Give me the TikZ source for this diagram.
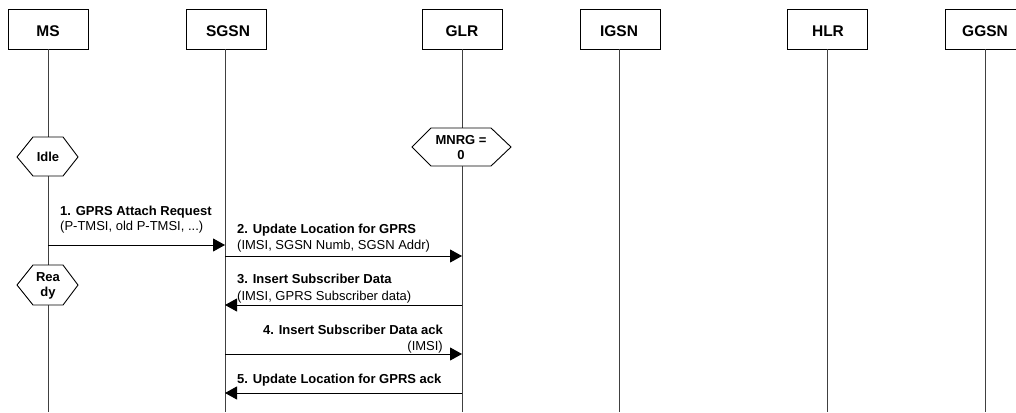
\documentclass[tikz,border=0pt]{standalone}
\usepackage{fontspec}
\setmainfont{Liberation Sans}
\usetikzlibrary{arrows.meta}
\begin{document}
\begin{tikzpicture}[x=1pt,y=-1pt,
  entity/.style={draw, line width=0.9pt, minimum width=80pt, minimum height=40pt, inner sep=0pt, font=\fontsize{15.5}{17}\selectfont\bfseries},
  life/.style={line width=0.9pt, draw=black!75},
  msg/.style={line width=0.9pt, -{Triangle[length=12pt,width=13pt]}},
  lbl/.style={inner sep=0pt, font=\fontsize{13}{16}\selectfont},
  hexlbl/.style={inner sep=0pt, align=center, font=\fontsize{13}{15}\selectfont\bfseries},
  hexa/.style={draw, fill=white, line width=0.9pt}
]
\useasboundingbox (0,0) rectangle (1016,412);
\begin{scope}
\clip (0,0) rectangle (1016,412);
% entity boxes
\node[entity] (ms)   at (48,29)  {};
\node[entity] (sgsn) at (226,29) {};
\node[entity] (glr)  at (462,29) {};
\node[entity] (igsn) at (620,29) {};
\node[entity] (hlr)  at (827,29) {};
\node[entity] (ggsn) at (985,29) {};
\node[font=\fontsize{15.5}{17}\selectfont\bfseries] at (48,31.5) {MS};
\node[font=\fontsize{15.5}{17}\selectfont\bfseries] at (228,31.5) {SGSN};
\node[font=\fontsize{15.5}{17}\selectfont\bfseries] at (462,31.5) {GLR};
\node[font=\fontsize{15.5}{17}\selectfont\bfseries] at (619,31.5) {IGSN};
\node[font=\fontsize{15.5}{17}\selectfont\bfseries] at (828,31.5) {HLR};
\node[font=\fontsize{15.5}{17}\selectfont\bfseries] at (985,31.5) {GGSN};
% lifeline ends
\coordinate (msE)   at (48,412);
\coordinate (sgsnE) at (225,412);
\coordinate (glrE)  at (462,412);
\coordinate (igsnE) at (619,412);
\coordinate (hlrE)  at (827,412);
\coordinate (ggsnE) at (985,412);
\draw[life] (ms.south)   -- (msE);
\draw[life] (sgsn.south -| sgsnE) -- (sgsnE);
\draw[life] (glr.south)  -- (glrE);
\draw[life] (igsn.south -| igsnE) -- (igsnE);
\draw[life] (hlr.south)  -- (hlrE);
\draw[life] (ggsn.south) -- (ggsnE);
% state hexagons
\draw[hexa] (17,157) -- (33,137) -- (63,137) -- (78,157) -- (63,176) -- (33,176) -- cycle;
\node[hexlbl] (idle) at (48,157) {Idle};
\draw[hexa] (412,147) -- (431,128) -- (491,128) -- (511,147) -- (491,166) -- (431,166) -- cycle;
\node[hexlbl] (mnrg) at (461,147.5) {MNRG =\\0};
\draw[hexa] (17,285) -- (33,265) -- (63,265) -- (78,285) -- (63,305) -- (33,305) -- cycle;
\node[hexlbl] (ready) at (48,285.5) {Rea\\dy};
% message points
\coordinate (m1a) at (48,245);  \coordinate (m1b) at (225,245);
\coordinate (m2a) at (225,256); \coordinate (m2b) at (462,256);
\coordinate (m3a) at (462,305); \coordinate (m3b) at (225,305);
\coordinate (m4a) at (225,354); \coordinate (m4b) at (462,354);
\coordinate (m5a) at (462,393); \coordinate (m5b) at (225,393);
\draw[msg] (m1a) -- (m1b);
\draw[msg] (m2a) -- (m2b);
\draw[msg] (m3a) -- (m3b);
\draw[msg] (m4a) -- (m4b);
\draw[msg] (m5a) -- (m5b);
% labels
\node[lbl, anchor=base west] (l1a) at (60,215) {\bfseries 1. GPRS Attach Request};
\node[lbl, anchor=base west] (l1b) at (60,230) {(P-TMSI, old P-TMSI, ...)};
\node[lbl, anchor=base west] (l2a) at (237,233) {\bfseries 2. Update Location for GPRS};
\node[lbl, anchor=base west] (l2b) at (237,249) {(IMSI, SGSN Numb, SGSN Addr)};
\node[lbl, anchor=base west] (l3a) at (237,283) {\bfseries 3. Insert Subscriber Data};
\node[lbl, anchor=base west] (l3b) at (237,300) {(IMSI, GPRS Subscriber data)};
\node[lbl, anchor=base east] (l4a) at (443,334) {\bfseries 4. Insert Subscriber Data ack};
\node[lbl, anchor=base east] (l4b) at (443,350) {(IMSI)};
\node[lbl, anchor=base west] (l5a) at (237,383) {\bfseries 5. Update Location for GPRS ack};
\end{scope}
\end{tikzpicture}
\end{document}
